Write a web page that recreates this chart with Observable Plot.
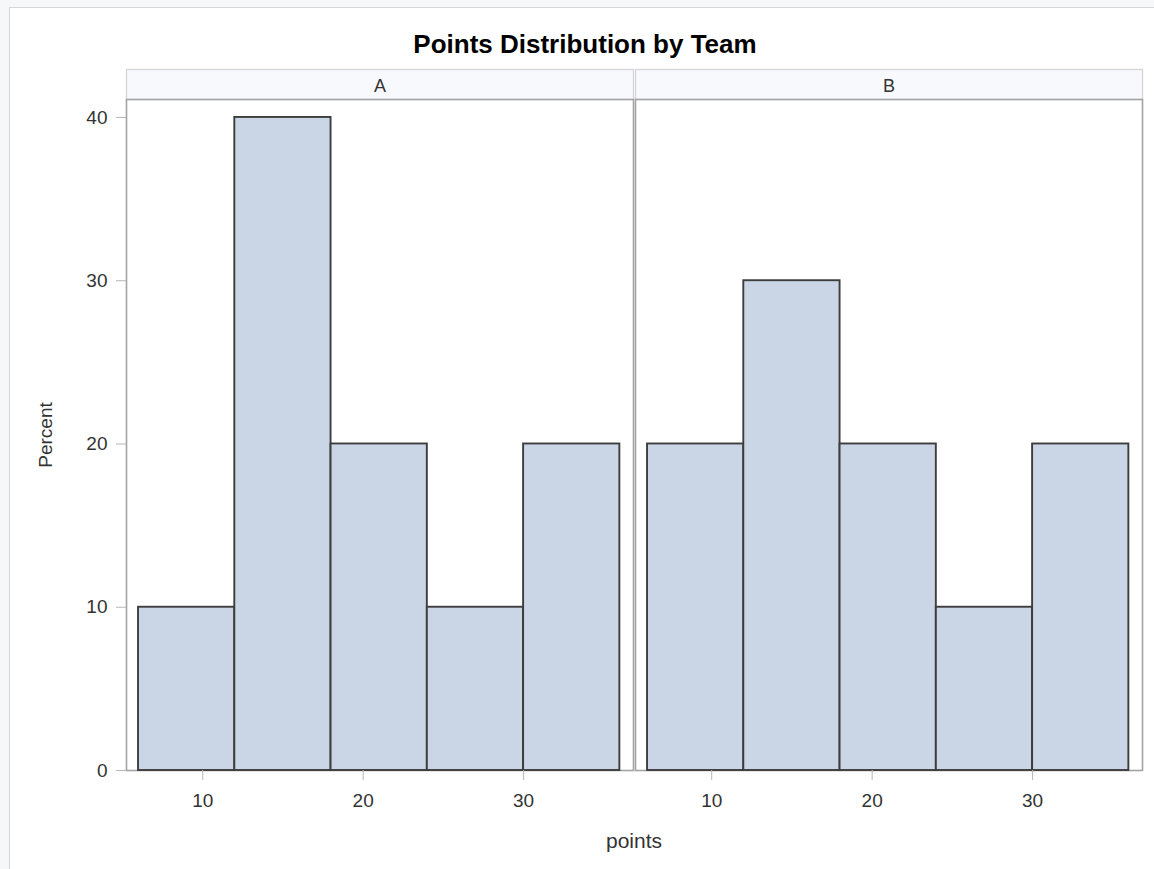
<!DOCTYPE html>
<html>
<head>
<meta charset="utf-8">
<script src="https://cdn.jsdelivr.net/npm/d3@7"></script>
<script src="https://cdn.jsdelivr.net/npm/@observablehq/plot@0.6"></script>
<style>
  body { margin: 0; background: #f6f7f9; font-family: "Liberation Sans", Arial, sans-serif; }
  #wrap { position: relative; width: 1154px; height: 869px; overflow: hidden; }
  #border { position: absolute; left: 9px; top: 7px; width: 1200px; height: 900px; border: 1px solid #d6d6d6; background: #fff; }
  #title { position: absolute; left: 0; top: 29px; width: 1170px; text-align: center; font-weight: bold; font-size: 26px; color: #000; }
  #chart { position: absolute; left: 0; top: 60px; }
  #xlabel { position: absolute; left: 0; width: 1268px; top: 830px; line-height: 1; text-align: center; font-size: 21px; color: #333; }
</style>
</head>
<body>
<div id="wrap">
  <div id="border"></div>
  <div id="title">Points Distribution by Team</div>
  <div id="chart"></div>
  <div id="xlabel">points</div>
</div>
<script>
// ---- data ----
const teams = ["A", "B"];
const binStart = [6, 12, 18, 24, 30];
const binEnd = [12, 18, 24, 30, 36];
const percentA = [10, 40, 20, 10, 20];
const percentB = [20, 30, 20, 10, 20];
const xTicks = [10, 20, 30];
const yTicks = [0, 10, 20, 30, 40];

const series = {A: percentA, B: percentB};
const rows = teams.flatMap(t => binStart.map((s, i) => ({team: t, x1: s, x2: binEnd[i], percent: series[t][i]})));

const chart = Plot.plot({
  width: 1154,
  height: 800,
  marginLeft: 125,
  marginRight: 11,
  marginTop: 39,
  marginBottom: 90,
  style: {fontFamily: "'Liberation Sans', Arial, sans-serif", fontSize: "19px", color: "#333", background: "transparent"},
  fx: {domain: teams, paddingInner: 0.003, paddingOuter: 0},
  x: {domain: [5.25, 36.85]},
  y: {domain: [0, 41.1]},
  marks: [
    Plot.frame({stroke: "#a3a3a3", strokeWidth: 1.6}),
    Plot.rectY(rows, {fx: "team", x1: "x1", x2: "x2", y: "percent", fill: "#cad5e5", stroke: "#3d3d3d", strokeWidth: 1.9}),
    Plot.axisX({ticks: xTicks, tickSize: 10, tickPadding: 13, label: null, stroke: "#b5b5b5", fill: "#333"}),
    Plot.axisY({ticks: yTicks, tickSize: 10, tickPadding: 9, label: "Percent", labelArrow: "none", labelAnchor: "center", labelOffset: 88, stroke: "#b5b5b5", fill: "#333", fontSize: 19}),
    Plot.axisFx({anchor: "top", label: null, tickSize: 0, tickPadding: 8, fill: "#333", fontSize: 18})
  ]
});
document.getElementById("chart").appendChild(chart);

// facet header strips drawn behind everything, aligned to each panel frame
const sr = chart.getBoundingClientRect();
const frames = chart.querySelectorAll('[aria-label="frame"] rect, rect[aria-label="frame"]');
const first = chart.querySelector("style") ? chart.querySelector("style").nextSibling : chart.firstChild;
frames.forEach(f => {
  const r = f.getBoundingClientRect();
  const h = document.createElementNS("http://www.w3.org/2000/svg", "rect");
  h.setAttribute("x", r.left - sr.left);
  h.setAttribute("y", r.top - sr.top - 30);
  h.setAttribute("width", r.width);
  h.setAttribute("height", 30);
  h.setAttribute("fill", "#f8f9fd");
  h.setAttribute("stroke", "#d5d5d5");
  h.setAttribute("stroke-width", 1.3);
  chart.insertBefore(h, first);
});
</script>
</body>
</html>
